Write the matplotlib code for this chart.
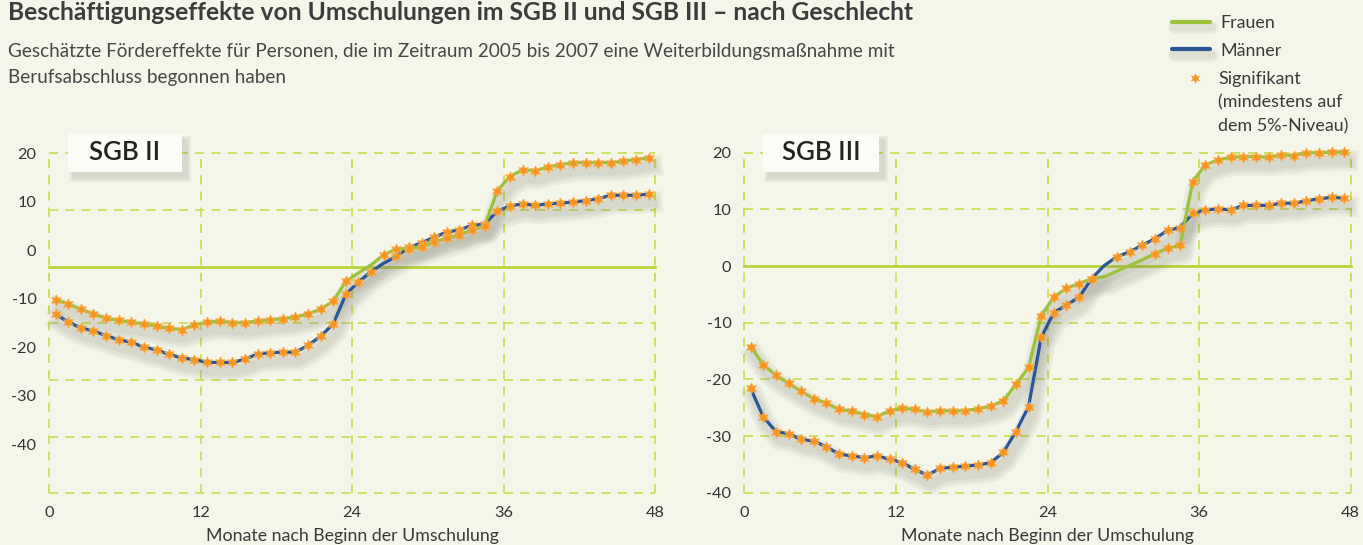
import numpy as np
import matplotlib
matplotlib.use("Agg")
import matplotlib.pyplot as plt
from matplotlib import patheffects as pe
from matplotlib.patches import Rectangle
from matplotlib.lines import Line2D

# ---------------- data ----------------
months = np.arange(1, 49)
x_ticks = [0, 12, 24, 36, 48]
y_ticks = [20, 10, 0, -10, -20, -30, -40]

panel_titles = ["SGB II", "SGB III"]
series_names = ["Frauen", "Männer"]

sgb2_frauen = [-5.8, -6.6, -7.5, -8.35, -9.1, -9.5, -9.8, -10.1, -10.5, -10.9, -11.1, -10.3,
               -9.8, -9.6, -9.9, -9.9, -9.6, -9.35, -9.2, -8.9, -8.35, -7.5, -6.1, -2.6,
               -1.1, 0.3, 2.1, 3.1, 3.2, 3.5, 4.4, 5.0, 5.6, 6.5, 7.2, 13.4,
               15.9, 17.1, 16.9, 17.6, 18.0, 18.35, 18.35, 18.35, 18.35, 18.6, 18.9, 19.2]
sgb2_maenner = [-8.35, -9.8, -10.8, -11.35, -12.2, -12.9, -13.35, -14.2, -14.7, -15.5, -16.1, -16.4,
                -16.9, -16.9, -16.9, -16.35, -15.4, -15.2, -15.1, -15.1, -13.9, -12.3, -10.1, -4.9,
                -2.7, -0.9, 0.6, 1.8, 3.4, 4.2, 5.2, 6.1, 6.5, 7.3, 7.5, 9.8,
                10.7, 11.1, 10.8, 11.1, 11.2, 11.4, 11.65, 12.0, 12.6, 12.6, 12.6, 12.8]
sgb3_frauen = [-14.2, -17.4, -19.3, -20.7, -22.1, -23.4, -24.2, -25.3, -25.6, -26.2, -26.6, -25.5,
               -25.1, -25.3, -25.8, -25.5, -25.6, -25.5, -25.2, -24.7, -23.8, -20.9, -17.9, -8.8,
               -5.5, -3.9, -3.1, -2.2, -1.9, -0.9, 0.1, 1.1, 2.2, 3.1, 3.7, 14.9,
               17.9, 18.7, 19.2, 19.3, 19.3, 19.2, 19.6, 19.5, 20.0, 20.0, 20.1, 20.1]
sgb3_maenner = [-21.6, -26.6, -29.2, -29.6, -30.6, -30.9, -31.9, -33.2, -33.5, -33.8, -33.5, -34.1,
                -34.7, -35.9, -36.9, -35.7, -35.5, -35.3, -35.1, -34.7, -32.9, -29.2, -24.8, -12.6,
                -8.2, -6.9, -5.5, -2.2, 0.1, 1.65, 2.5, 3.7, 4.8, 6.3, 6.8, 9.3,
                9.9, 10.1, 9.9, 10.7, 10.7, 10.7, 11.1, 11.1, 11.5, 11.9, 12.1, 12.0]

# significance flags (1 = significant at 5% level)
sgb2_frauen_sig = [1] * 24 + [0, 0] + [1] * 22
sgb2_maenner_sig = [1] * 26 + [0] + [1] * 21
sgb3_frauen_sig = [1] * 28 + [0, 0, 0, 0] + [1] * 16
sgb3_maenner_sig = [1] * 28 + [0] + [1] * 19

title = "Beschäftigungseffekte von Umschulungen im SGB II und SGB III – nach Geschlecht"
subtitle_lines = ["Geschätzte Fördereffekte für Personen, die im Zeitraum 2005 bis 2007 eine Weiterbildungsmaßnahme mit",
                  "Berufsabschluss begonnen haben"]
xlabel = "Monate nach Beginn der Umschulung"
legend_sig_lines = ["Signifikant", "(mindestens auf", "dem 5%-Niveau)"]

# ---------------- style ----------------
BG = "#F4F6EA"
GREEN = "#9CC13A"
BLUE = "#2A5597"
STAR = "#F7941D"
GRID = "#CBDF58"
ZERO = "#B8D43A"
TXT = "#3A3A3A"
FONT = "Lato"

W, H = 1363, 545
plt.rcParams["font.family"] = [FONT, "DejaVu Sans"]

fig = plt.figure(figsize=(W / 100, H / 100), dpi=100, facecolor=BG)


def fx(px):
    return px / W


def fy(py):
    return 1 - py / H


renderer = fig.canvas.get_renderer()


def fit_text(t, target_px):
    bb = t.get_window_extent(renderer=renderer)
    t.set_fontsize(t.get_fontsize() * target_px / bb.width)


# title & subtitle
t = fig.text(fx(8), fy(19.5), title, fontsize=15, fontweight="bold", color="#3C3C3C",
             va="baseline", ha="left")
fit_text(t, 907)
s1 = fig.text(fx(8), fy(56.5), subtitle_lines[0], fontsize=12, color="#474747",
              va="baseline", ha="left")
fit_text(s1, 880)
fig.text(fx(8), fy(82.5), subtitle_lines[1], fontsize=s1.get_fontsize(), color="#474747",
         va="baseline", ha="left")

shadow_fx = [pe.SimpleLineShadow(offset=(2.5, -6), shadow_color="#6f6f62", alpha=0.075, linewidth=w)
             for w in (15, 11, 7)]

# axes positions (pixels): left, bottom(from top), right
panels = [
    dict(title=panel_titles[0], frauen=sgb2_frauen, maenner=sgb2_maenner,
         fsig=sgb2_frauen_sig, msig=sgb2_maenner_sig, x0=49.3, x1=655.0, ybot=493.3,
         label_scale=0.855, box=(68, 182)),
    dict(title=panel_titles[1], frauen=sgb3_frauen, maenner=sgb3_maenner,
         fsig=sgb3_frauen_sig, msig=sgb3_maenner_sig, x0=744.3, x1=1350.7, ybot=492.7,
         label_scale=1.0, box=(763, 879)),
]

x = months - 0.5
for p in panels:
    ax = fig.add_axes([fx(p["x0"]), fy(p["ybot"]), (p["x1"] - p["x0"]) / W, 340 / H])
    ax.set_facecolor("none")
    ax.set_xlim(0, 48)
    ax.set_ylim(-40, 20)
    for sp in ax.spines.values():
        sp.set_visible(False)

    # grid
    for v in y_ticks:
        if v == 0:
            continue
        ax.axhline(v, color=GRID, lw=1.3, ls=(0, (5, 4)), zorder=1, clip_on=False)
    for v in x_ticks:
        ax.axvline(v, color=GRID, lw=1.3, ls=(0, (5, 4)), zorder=1, clip_on=False)
    ax.axhline(0, color=ZERO, lw=2.0, zorder=2, clip_on=False)

    # ticks
    ax.set_xticks(x_ticks)
    ax.set_xticklabels([str(v) for v in x_ticks])
    label_pos = 20 + (np.array(y_ticks) - 20) * p["label_scale"]
    ax.set_yticks(label_pos)
    ax.set_yticklabels([str(v) for v in y_ticks])
    ax.tick_params(axis="both", length=0, labelsize=11.7, labelcolor="#333333")
    ax.tick_params(axis="x", pad=9.5)
    ax.tick_params(axis="y", pad=9.3)

    # shadows first, then lines, then markers
    for y, c in ((p["maenner"], BLUE), (p["frauen"], GREEN)):
        ax.plot(x, y, color=c, lw=2.2, path_effects=shadow_fx, zorder=3, clip_on=False)
    for y, c in ((p["maenner"], BLUE), (p["frauen"], GREEN)):
        ax.plot(x, y, color=c, lw=2.3, zorder=4, solid_capstyle="round", clip_on=False)
    for y, sig in ((p["maenner"], p["msig"]), (p["frauen"], p["fsig"])):
        ys = np.where(np.array(sig) == 1, np.array(y), np.nan)
        ax.plot(x, ys, ls="none", marker=(6, 1, 0), ms=8, mfc=STAR, mec="#F9A94A",
                mew=0.6, zorder=5, clip_on=False)

    # x label
    xl = fig.text(fx((p["x0"] + p["x1"]) / 2), fy(541), xlabel, fontsize=12, color=TXT,
                  ha="center", va="baseline")
    fit_text(xl, 292)

    # panel title box with shadow
    bx0, bx1 = p["box"]
    by0, by1 = 134, 172
    for i, a in enumerate((0.05, 0.07, 0.09)):
        g = 4 - i * 1.5
        fig.add_artist(Rectangle((fx(bx0 + 5 - g), fy(by1 + 6 + g)),
                                 (bx1 - bx0 + 2 * g) / W, (by1 - by0 + 2 * g) / H,
                                 facecolor="#6b6b60", alpha=a, edgecolor="none",
                                 transform=fig.transFigure, zorder=6))
    fig.add_artist(Rectangle((fx(bx0), fy(by1)), (bx1 - bx0) / W, (by1 - by0) / H,
                             facecolor="#FBFCF6", edgecolor="none",
                             transform=fig.transFigure, zorder=7))
    fig.text(fx((bx0 + bx1) / 2), fy(153), p["title"], fontsize=18.5, color="#222222",
             fontweight="semibold", ha="center", va="center", zorder=8)

# ---------------- legend ----------------
leg_fx = [pe.SimpleLineShadow(offset=(1.5, -4), shadow_color="#6f6f62", alpha=0.08, linewidth=w)
          for w in (9, 6)] + [pe.Normal()]
probe = fig.text(0, 0, legend_sig_lines[1], fontsize=11)
fit_text(probe, 124)
leg_size = probe.get_fontsize()
probe.remove()
for yy, c, name in ((21.5, GREEN, series_names[0]), (49.0, BLUE, series_names[1])):
    fig.add_artist(Line2D([fx(1172), fx(1210)], [fy(yy), fy(yy)], color=c, lw=3.0,
                          solid_capstyle="round", transform=fig.transFigure,
                          path_effects=leg_fx))
    fig.text(fx(1220), fy(yy + 6.5), name, fontsize=leg_size, color=TXT, ha="left",
             va="baseline")
fig.add_artist(Line2D([fx(1195)], [fy(77.5)], ls="none", marker=(6, 1, 0), ms=7,
                      mfc=STAR, mec="#F9A94A", mew=0.5, transform=fig.transFigure))
for i, line in enumerate(legend_sig_lines):
    fig.text(fx(1218), fy(84 + i * 23.5), line, fontsize=leg_size, color=TXT,
             ha="left", va="baseline")

fig.savefig("out.png", dpi=100, facecolor=BG)
